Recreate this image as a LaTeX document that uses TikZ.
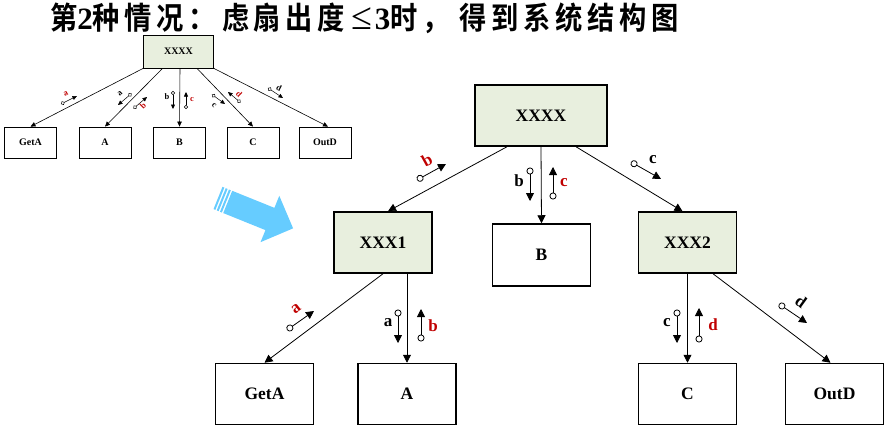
\documentclass[tikz,border=0pt]{standalone}
\usepackage{fontspec}
\setmainfont{Liberation Serif}
\newfontfamily\cjk{Noto Sans CJK SC}[BoldFont={Noto Sans CJK SC Bold},FakeStretch=0.88,LetterSpace=15]
\usepackage{tikz}
\usetikzlibrary{calc}
\usetikzlibrary{arrows.meta}
\definecolor{modgreen}{RGB}{232,239,222}
\definecolor{labred}{RGB}{192,0,0}
\definecolor{skyblue}{RGB}{102,204,255}
\tikzset{mod/.style={rectangle,draw=black,line width=1.5pt,minimum width=98pt,minimum height=61pt,inner sep=0pt,font=\fontsize{17.5}{17.5}\selectfont\bfseries}}
\tikzset{gmod/.style={mod,fill=modgreen}}
\tikzset{smod/.style={rectangle,draw=black,line width=0.8pt,minimum width=52pt,minimum height=31pt,inner sep=0pt,font=\fontsize{10}{10}\selectfont\bfseries}}
\tikzset{link/.style={line width=0.8pt,-{Triangle[length=8pt,width=8pt]}}}
\tikzset{slink/.style={line width=0.6pt,-{Triangle[length=5pt,width=4.5pt]}}}
\tikzset{couple/.style={line width=0.8pt,{Circle[open,length=7pt,width=7pt]}-{Triangle[length=8pt,width=8pt]}}}
\tikzset{scouple/.style={line width=0.5pt,{Circle[open,length=4pt,width=4pt]}-{Triangle[length=4.5pt,width=4pt]}}}
\tikzset{lab/.style={inner sep=0pt,font=\fontsize{17}{17}\selectfont\bfseries}}
\tikzset{slab/.style={inner sep=0pt,font=\fontsize{8.5}{8.5}\selectfont\bfseries}}

\begin{document}
\begin{tikzpicture}[x=1pt,y=-1pt]
\useasboundingbox (0,0) rectangle (889,431);

\node[anchor=west,inner sep=0pt] (title) at (50,18) {\fontsize{31}{31}\selectfont\cjk\bfseries 第{\rmfamily 2}种情况：\hspace{6pt}虑扇出度{\rmfamily\hspace{6pt}\mdseries\fontsize{38}{38}\selectfont ≤\hspace{3pt}\fontsize{31}{31}\selectfont\bfseries 3}时，\hspace{10pt}得到系统结构图};

% small chart
\node[smod,fill=modgreen,minimum width=70pt,minimum height=33pt] (sTop) at (178.5,51.5) {XXXX};
\node[smod] (sGetA) at (30.5,142.5) {GetA};
\node[smod] (sA) at (105,142.5) {A};
\node[smod] (sB) at (179.5,142.5) {B};
\node[smod] (sC) at (253,142.5) {C};
\node[smod] (sOutD) at (325,142.5) {OutD};

\draw[slink] (sTop.south west) -- (sGetA.north);
\draw[slink] ($(sTop.south)+(-16,0)$) -- (sA.north);
\draw[slink] ($(sTop.south)+(1.5,0)$) -- (sB.north);
\draw[slink] ($(sTop.south)+(18.5,0)$) -- (sC.north);
\draw[slink] (sTop.south east) -- ($(sOutD.north)+(3,0)$);

\draw[scouple] (61,104) -- (77,96);
\node[slab,text=labred,rotate=27] (sa1) at (66,93.5) {a};
\draw[scouple] (131.5,93.5) -- (118,105);
\node[slab,rotate=45] (sa2) at (120,94) {a};
\draw[scouple] (133.5,108.5) -- (147,97);
\node[slab,text=labred,rotate=45] (sb1) at (143,106) {b};
\draw[scouple] (173,91) -- (173,109);
\node[slab] (sb2) at (167,97) {b};
\draw[scouple] (186,109) -- (186,92);
\node[slab,text=labred] (sc1) at (192,100) {c};
\draw[scouple] (212,94.5) -- (225,104);
\node[slab,rotate=-45] (sc2) at (214,105) {c};
\draw[scouple] (240.5,102.5) -- (228,92);
\node[slab,text=labred,rotate=-45] (sd1) at (239,94) {d};
\draw[scouple] (268,88) -- (283,98);
\node[slab,rotate=-27] (sd2) at (279,88) {d};

% arrow between the charts
\begin{scope}[shift={(218,198)},rotate=-22]
\fill[skyblue] (10.5,-12) -- (56,-12) -- (56,-25) -- (81,0) -- (56,25) -- (56,12) -- (10.5,12) -- cycle;
\fill[skyblue] (0,-12) rectangle (2,12);
\fill[skyblue] (3.5,-12) rectangle (5.5,12);
\fill[skyblue] (7,-12) rectangle (9,12);
\end{scope}

% large chart
\node[gmod,minimum width=132pt] (top) at (541,115.5) {XXXX};
\node[gmod] (x1) at (383,242.5) {XXX1};
\node[mod,minimum height=62pt] (b) at (541.5,255) {B};
\node[gmod] (x2) at (687.5,242.5) {XXX2};
\node[mod] (getA) at (264.5,394) {GetA};
\node[mod] (a) at (407,394) {A};
\node[mod] (c) at (687.5,394) {C};
\node[mod] (outD) at (834.5,394) {OutD};

\draw[link] ($(top.south)+(-34,0)$) -- ($(x1.north)+(5,0)$);
\draw[link] (top.south) -- (b.north);
\draw[link] ($(top.south)+(35,0)$) -- ($(x2.north)+(-5,0)$);
\draw[link] (x1.south) -- (getA.north);
\draw[link] ($(x1.south)+(24,0)$) -- (a.north);
\draw[link] (x2.south) -- (c.north);
\draw[link] ($(x2.south)+(25.5,0)$) -- ($(outD.north)+(-4,0)$);

\draw[couple] (417,180) -- (446,164);
\node[lab,text=labred,rotate=29] (b1) at (427,160) {b};
\draw[couple] (530,167.5) -- (530,201);
\node[lab] (b2) at (519,181) {b};
\draw[couple] (553,199.5) -- (553,167);
\node[lab,text=labred] (c1) at (564,183) {c};
\draw[couple] (631,162) -- (661,179);
\node[lab] (c2) at (653,160) {c};
\draw[couple] (287,330) -- (314,311);
\node[lab,text=labred,rotate=38] (a1) at (296,309) {a};
\draw[couple] (398,309.5) -- (398,343);
\node[lab] (a2) at (388,323) {a};
\draw[couple] (421,341.5) -- (421,309);
\node[lab,text=labred] (b3) at (433,326) {b};
\draw[couple] (677,309.5) -- (677,343);
\node[lab] (c3) at (667,323) {c};
\draw[couple] (699,342.5) -- (699,308);
\node[lab,text=labred] (d1) at (713,325) {d};
\draw[couple] (779,304) -- (807,323);
\node[lab,rotate=-36] (d2) at (801,302) {d};

\end{tikzpicture}
\end{document}
